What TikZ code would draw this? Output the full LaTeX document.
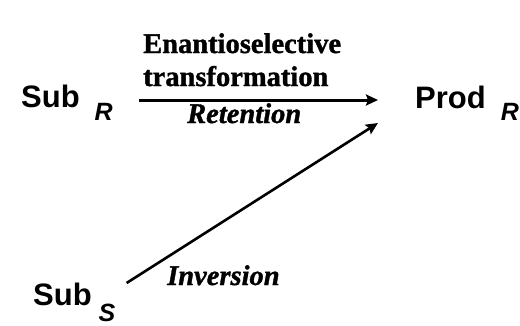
\documentclass[tikz,border=0pt]{standalone}
\usepackage{fontspec}
\setmainfont{Liberation Serif}[BoldFeatures={FakeBold=1.2},BoldItalicFeatures={FakeBold=1.2}]
\newfontfamily\arialf{Liberation Sans}
\usetikzlibrary{arrows.meta}
\tikzset{
  species/.style={anchor=base west, inner sep=0pt, font=\arialf\bfseries\fontsize{31}{34}\selectfont},
  lbl/.style={anchor=base west, inner sep=0pt, font=\bfseries\fontsize{28.5}{33}\selectfont},
  ilbl/.style={anchor=base west, inner sep=0pt, font=\bfseries\itshape\fontsize{28.5}{33}\selectfont},
  arr/.style={line width=3pt, -{Stealth[length=12pt,width=11pt,inset=2pt]}},
  darr/.style={line width=2.6pt, -{Stealth[length=12pt,width=11pt,inset=2pt]}}
}
\newcommand{\subscr}[2]{\raisebox{-#1pt}{\fontsize{25}{27}\selectfont\itshape #2}}
\begin{document}
\begin{tikzpicture}[x=1pt,y=-1pt]
\useasboundingbox (0,0) rectangle (520,325);
\node[species] (subR) at (21,107) {Sub\hspace{15pt}\subscr{13}{R}};
\node[species] (prodR) at (415,108) {Prod\hspace{15pt}\subscr{12}{R}};
\node[species] (subS) at (33,305) {Sub\hspace{7pt}\subscr{16}{S}};
\node[lbl] (l1) at (143,53) {Enantioselective};
\node[lbl] (l2) at (143,86) {transformation};
\node[ilbl] (l3) at (187,123) {Retention};
\node[ilbl] (l4) at (167,285) {Inversion};
\draw[arr] ([xshift=26pt,yshift=7pt]subR.base east) -- ([xshift=-37pt,yshift=8pt]prodR.base west);
\draw[darr] ([xshift=11pt,yshift=22pt]subS.base east) -- ([xshift=-37pt,yshift=-15pt]prodR.base west);
\end{tikzpicture}
\end{document}
